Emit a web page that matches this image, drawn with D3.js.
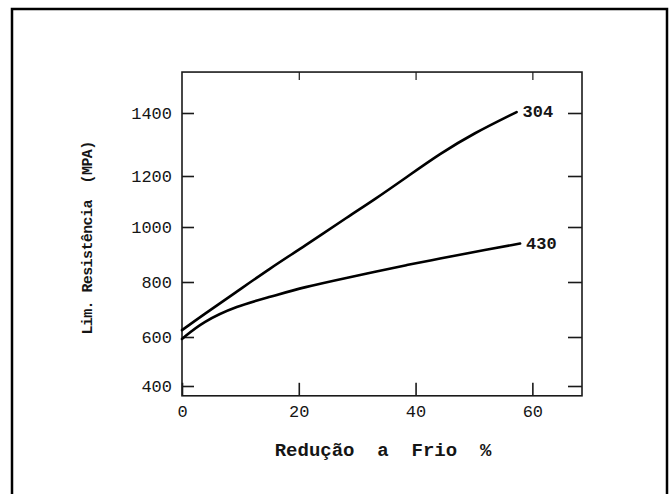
<script src="https://d3js.org/d3.v7.min.js"></script>

<style>
  body { margin: 0; background: #fff; }
  text { font-family: "Liberation Mono", "DejaVu Sans Mono", monospace; fill: #151515; }
</style>

<body>
  <svg id="vis"></svg>
</body>

<script>
  // - - - - - - - - Data - - - - - - - -
  var reducao = [0, 3.6, 9.4, 15.1, 20.8, 28.8, 32.8, 38.5, 44.2, 49.9, 57.3];   // Redução a frio (%)
  var aco304 = [625, 680, 765, 850, 928, 1046, 1105, 1196, 1271, 1335, 1403];    // MPa
  var reducao430 = [0, 3.6, 9.4, 15.1, 20.8, 28.8, 32.8, 38.5, 44.2, 49.9, 57.9];
  var aco430 = [592, 656, 713, 746, 781, 818, 836, 862, 885, 909, 940];         // MPa

  var xTicks = [0, 20, 40, 60];
  var yTicks = [400, 600, 800, 1000, 1200, 1400];
  var seriesNames = ["304", "430"];

  var W = 669, H = 494;

  var svg = d3.select("#vis")
    .attr("width", W)
    .attr("height", H);

  // outer frame (left, top, right only - bottom is cut off in the scan)
  svg.append("path")
    .attr("d", "M12,494 V9 H667 V494")
    .attr("fill", "none")
    .attr("stroke", "#000")
    .attr("stroke-width", 2.5);

  // scales
  var xscale = d3.scaleLinear()
    .domain([0, 68.5])
    .range([182, 582]);

  // the original axis was hand drawn and its ticks are not evenly spaced,
  // so the y scale is piecewise linear through the drawn tick positions
  var yscale = d3.scaleLinear()
    .domain(yTicks)
    .range([386, 337, 282, 227, 176, 113]);

  var yLow = 360, yHigh = 1530;   // extent of the plot box

  var x0 = xscale.range()[0], x1 = xscale.range()[1];
  var yb = yscale(yLow), yt = yscale(yHigh);

  // plot box
  svg.append("rect")
    .attr("x", x0)
    .attr("y", yt)
    .attr("width", x1 - x0)
    .attr("height", yb - yt)
    .attr("fill", "none")
    .attr("stroke", "#1a1a1a")
    .attr("stroke-width", 1.6);

  // left axis, ticks pointing in
  var gLeft = svg.append("g")
    .attr("transform", "translate(" + x0 + ",0)")
    .call(d3.axisLeft(yscale).tickValues(yTicks).tickFormat(d3.format("d")).tickSize(-12).tickPadding(10));

  // bottom axis
  var gBottom = svg.append("g")
    .attr("transform", "translate(0," + yb + ")")
    .call(d3.axisBottom(xscale).tickValues(xTicks).tickFormat(d3.format("d")).tickSize(-13).tickPadding(9));

  // right axis (ticks only)
  var gRight = svg.append("g")
    .attr("transform", "translate(" + x1 + ",0)")
    .call(d3.axisRight(yscale).tickValues(yTicks).tickSize(-14).tickFormat(""));

  // top axis (small ticks only)
  var gTop = svg.append("g")
    .attr("transform", "translate(0," + yt + ")")
    .call(d3.axisTop(xscale).tickValues(xTicks.slice(1)).tickSize(-8).tickFormat(""));

  [gLeft, gBottom, gRight, gTop].forEach(function(g) {
    g.select(".domain").remove();
    g.selectAll(".tick line").attr("stroke", "#1a1a1a").attr("stroke-width", 1.6);
    g.selectAll(".tick text")
      .attr("font-size", 17)
      .attr("font-family", "Liberation Mono")
      .attr("fill", "#151515");
  });
  gTop.selectAll(".tick line").attr("stroke-width", 1.2);

  // curves
  var line = d3.line()
    .x(function(d){ return xscale(d[0]) })
    .y(function(d){ return yscale(d[1]) })
    .curve(d3.curveBasis);

  var series = [
    reducao.map(function(r, i){ return [r, aco304[i]] }),
    reducao430.map(function(r, i){ return [r, aco430[i]] })
  ];

  svg.selectAll(".curve")
    .data(series)
    .enter().append("path")
    .attr("class", "curve")
    .attr("d", line)
    .attr("fill", "none")
    .attr("stroke", "#000")
    .attr("stroke-width", 2.6)
    .attr("stroke-linecap", "round");

  // curve labels at the line ends
  svg.selectAll(".lbl")
    .data(series)
    .enter().append("text")
    .attr("class", "lbl")
    .attr("x", function(d){ return xscale(d[d.length - 1][0]) + 6 })
    .attr("y", function(d){ return yscale(d[d.length - 1][1]) + 5 })
    .attr("font-size", 17)
    .attr("font-weight", "bold")
    .text(function(d, i){ return seriesNames[i] });

  // axis titles
  svg.append("text")
    .attr("text-anchor", "middle")
    .attr("x", 383)
    .attr("y", 456)
    .attr("font-size", 19)
    .attr("font-weight", "bold")
    .style("white-space", "pre")
    .text("Redução  a  Frio  %");

  svg.append("text")
    .attr("text-anchor", "middle")
    .attr("transform", "translate(92,238) rotate(-90)")
    .attr("font-size", 15)
    .attr("font-weight", "bold")
    .attr("letter-spacing", -0.6)
    .style("white-space", "pre")
    .text("Lim. Resistência  (MPA)");
</script>
